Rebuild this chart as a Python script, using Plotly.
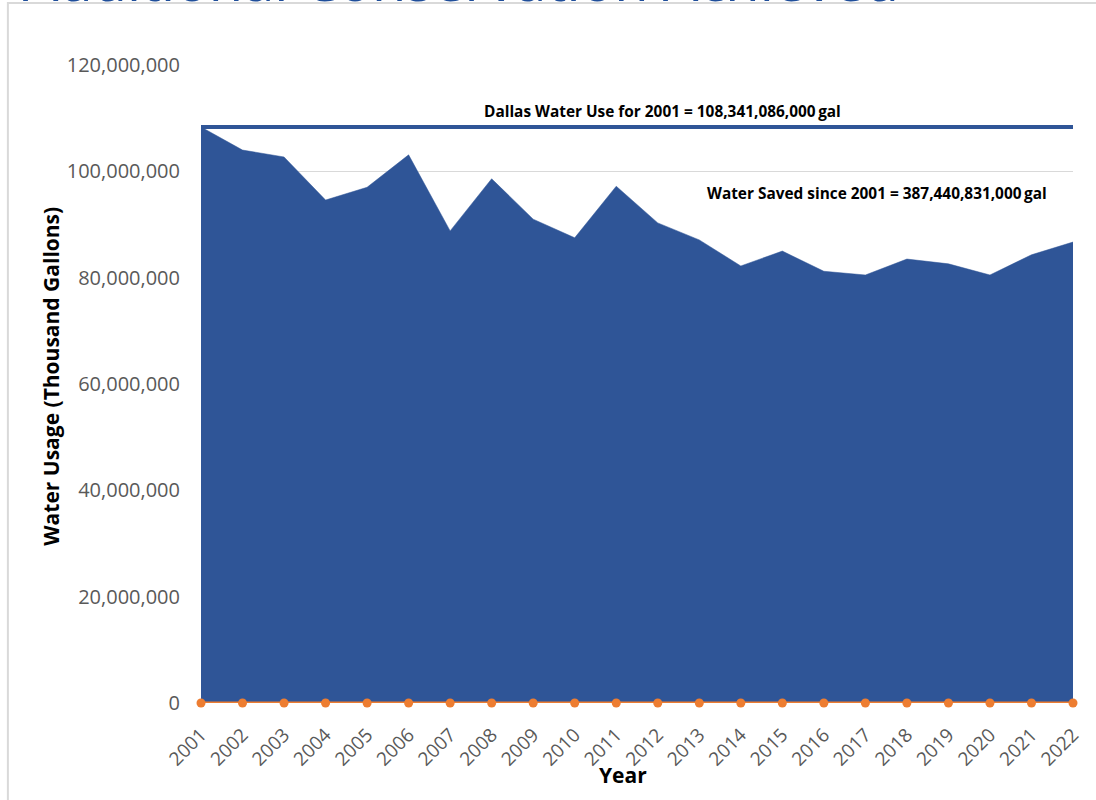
import plotly.graph_objects as go

years = list(range(2001, 2023))
usage = [108.34, 104.0, 102.7, 94.6, 97.0, 103.1, 88.8, 98.6, 91.0, 87.5, 97.2,
         90.3, 87.1, 82.2, 85.0, 81.2, 80.5, 83.5, 82.6, 80.5, 84.3, 86.7]
usage = [v * 1e6 for v in usage]
baseline_2001 = 108341086
saved = [0] * len(years)

title_text = "Additional Conservation Achieved"
label_use = "Dallas Water Use for 2001 = 108,341,086,000\u2009gal"
label_saved = "Water Saved since 2001 = 387,440,831,000\u2009gal"

BLUE = "#2F5597"
ORANGE = "#ED7D31"
GRAY = "#595959"

fig = go.Figure()
fig.add_trace(go.Scatter(x=years, y=usage, mode="lines", fill="tozeroy",
                         fillcolor=BLUE, line=dict(color=BLUE, width=0.5),
                         hoverinfo="skip", showlegend=False))
fig.add_trace(go.Scatter(x=[years[0], years[-1]], y=[baseline_2001, baseline_2001],
                         mode="lines", line=dict(color=BLUE, width=4),
                         showlegend=False, cliponaxis=False))
fig.add_trace(go.Scatter(x=years, y=saved, mode="lines+markers",
                         line=dict(color=ORANGE, width=3),
                         marker=dict(color=ORANGE, size=9),
                         showlegend=False, cliponaxis=False))

L, R, T, B = 201, 19, 65, 97
W, H = 1096, 800
pw, ph = W - L - R, H - T - B

def px(x):
    return (x - L) / pw

def py(y):
    return (H - B - y) / ph

fig.update_layout(
    width=W, height=H,
    margin=dict(l=L, r=R, t=T, b=B),
    paper_bgcolor="white", plot_bgcolor="white",
    font=dict(family="Open Sans, sans-serif", color=GRAY),
    xaxis=dict(range=[2001, 2022], tickmode="array", tickvals=years,
               ticktext=[str(y) for y in years], tickangle=-45,
               tickfont=dict(size=19, color=GRAY), showgrid=False,
               zeroline=False, showline=False, ticks="", ticklabelstandoff=16),
    yaxis=dict(range=[0, 120e6], tickmode="array",
               tickvals=[0, 20e6, 40e6, 60e6, 80e6, 100e6, 120e6],
               ticktext=["0", "20,000,000", "40,000,000", "60,000,000",
                         "80,000,000", "100,000,000", "120,000,000"],
               tickfont=dict(size=20, color=GRAY), showgrid=True,
               gridcolor="#D9D9D9", gridwidth=1, zeroline=False,
               showline=False, ticks="", ticklabelstandoff=20),
    shapes=[dict(type="rect", xref="paper", yref="paper",
                 x0=px(7), x1=px(1110), y0=py(3), y1=py(820),
                 line=dict(color="#D9D9D9", width=2), fillcolor="rgba(0,0,0,0)",
                 layer="below")],
    annotations=[
        dict(text=title_text, xref="paper", yref="paper", x=px(20), y=py(19),
             xanchor="left", yanchor="bottom", showarrow=False,
             font=dict(size=56, color="#1F4E9A", family="Open Sans, sans-serif")),
        dict(text="<b>" + label_use + "</b>", xref="paper", yref="paper",
             x=px(665), y=py(111), xanchor="center", yanchor="middle",
             showarrow=False,
             font=dict(size=15.4, color="black", family="Open Sans, sans-serif")),
        dict(text="<b>" + label_saved + "</b>", xref="paper", yref="paper",
             x=px(880), y=py(193), xanchor="center", yanchor="middle",
             showarrow=False,
             font=dict(size=15.4, color="black", family="Open Sans, sans-serif")),
        dict(text="<b>Water Usage (Thousand Gallons)</b>", xref="paper", yref="paper",
             x=px(50), y=py(376), xanchor="center", yanchor="middle",
             textangle=-90, showarrow=False,
             font=dict(size=21, color="black", family="Open Sans, sans-serif")),
        dict(text="<b>Year</b>", xref="paper", yref="paper",
             x=px(625), y=py(775), xanchor="center", yanchor="middle",
             showarrow=False,
             font=dict(size=21, color="black", family="Open Sans, sans-serif")),
    ],
)

fig.write_html("out.html", config={"displayModeBar": False},
               post_script="document.body.style.margin='0';document.body.style.overflow='hidden';")
